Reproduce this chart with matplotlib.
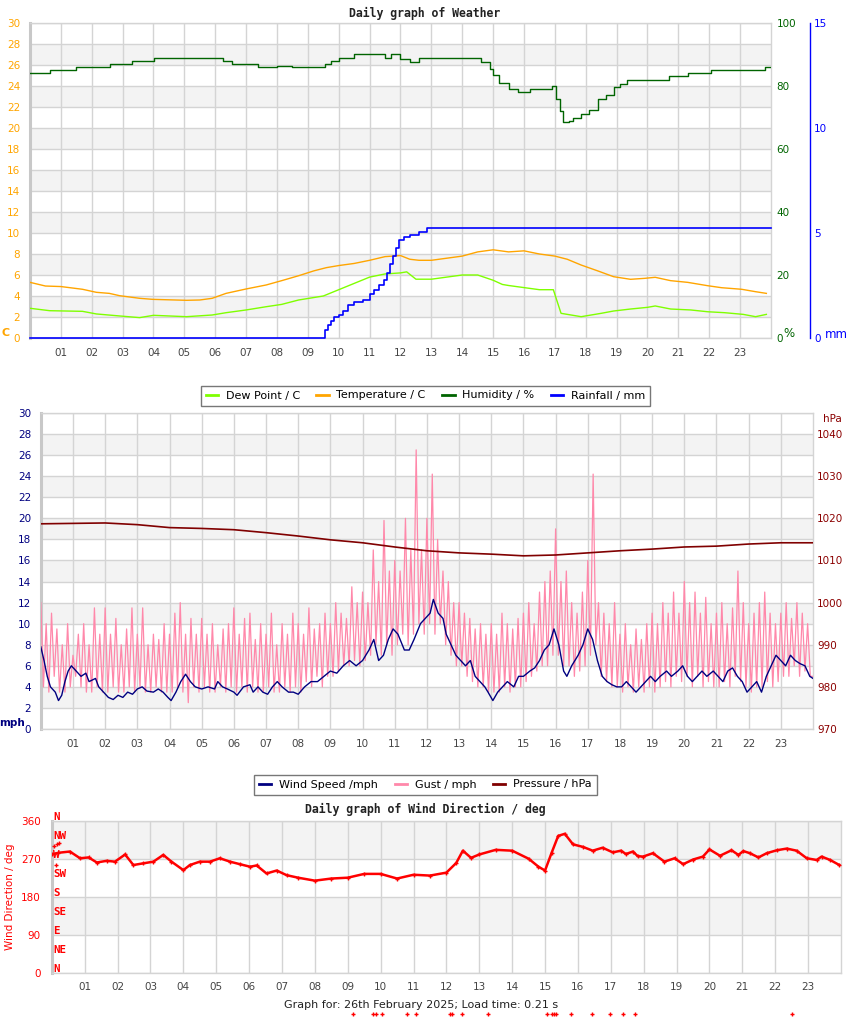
import matplotlib
matplotlib.use("Agg")
import matplotlib.pyplot as plt
from matplotlib.lines import Line2D

# ---------------- DATA ----------------
hour_ticks = list(range(1, 24))
hour_labels = [f"{h:02d}" for h in hour_ticks]

temp_hours = [0, 0.5, 1.0, 1.7, 2.15, 2.57, 2.9, 3.55, 3.98, 5.07, 5.5, 5.9, 6.35, 7.0, 7.65, 8.15, 8.7, 9.2,
              9.6, 10.0, 10.5, 11.0, 11.5, 12.0, 12.3, 12.6, 13.0, 13.5, 14.0, 14.5, 15.0, 15.5, 16.0, 16.5,
              17.0, 17.4, 17.85, 18.4, 18.9, 19.45, 19.9, 20.25, 20.75, 21.3, 21.95, 22.4, 23.05, 23.5, 23.85]
temp_vals = [5.3, 4.95, 4.9, 4.64, 4.35, 4.25, 4.03, 3.78, 3.68, 3.59, 3.62, 3.78, 4.25, 4.67, 5.05, 5.46, 5.93,
             6.4, 6.7, 6.9, 7.1, 7.4, 7.75, 7.85, 7.5, 7.4, 7.4, 7.6, 7.8, 8.2, 8.4, 8.2, 8.3, 8.0, 7.8, 7.5,
             6.95, 6.38, 5.84, 5.59, 5.68, 5.78, 5.46, 5.3, 4.98, 4.79, 4.64, 4.41, 4.25]

dew_hours = [0, 0.64, 1.7, 2.15, 2.9, 3.55, 4.0, 5.07, 5.9, 6.35, 7.0, 7.65, 8.15, 8.7, 9.5, 10.0, 10.5, 11.0,
             11.5, 12.0, 12.2, 12.5, 13.0, 13.5, 14.0, 14.5, 15.0, 15.3, 15.5, 16.0, 16.5, 16.95, 17.2, 17.85,
             18.5, 18.9, 19.45, 20.0, 20.25, 20.75, 21.4, 21.95, 22.5, 23.1, 23.5, 23.85]
dew_vals = [2.83, 2.6, 2.54, 2.29, 2.1, 1.94, 2.16, 2.03, 2.19, 2.41, 2.67, 2.98, 3.2, 3.62, 4.0, 4.6, 5.2, 5.8,
            6.1, 6.2, 6.3, 5.6, 5.6, 5.8, 6.0, 6.0, 5.5, 5.1, 5.0, 4.8, 4.6, 4.6, 2.35, 2.03, 2.35, 2.57, 2.76,
            2.92, 3.05, 2.76, 2.67, 2.5, 2.41, 2.25, 2.03, 2.25]

hum_hours = [0, 0.64, 1.5, 2.58, 3.3, 4.03, 6.25, 6.55, 7.4, 8.0, 8.5, 9.55, 9.75, 10.0, 10.5, 11.5, 11.7, 12.0,
             12.3, 12.6, 14.6, 14.9, 15.0, 15.2, 15.5, 15.8, 16.2, 16.9, 17.05, 17.15, 17.25, 17.45, 17.6, 17.85,
             18.1, 18.4, 18.65, 18.9, 19.1, 19.35, 20.7, 21.3, 22.05, 23.8, 24]
hum_vals = [84.1, 85.0, 85.9, 86.9, 87.8, 88.8, 87.8, 86.9, 85.9, 86.5, 85.9, 87.0, 88.0, 89.0, 90.0, 89.0, 90.0,
            88.7, 87.7, 88.8, 87.7, 85.5, 83.5, 81.0, 79.0, 78.0, 79.0, 80.0, 76.0, 72.0, 68.5, 69.0, 69.8, 71.1,
            72.5, 75.9, 77.0, 79.6, 80.5, 81.8, 83.1, 84.1, 85.0, 85.9, 85.9]

rain_hours = [0, 9.45, 9.55, 9.65, 9.75, 9.85, 10.0, 10.15, 10.3, 10.5, 10.8, 11.0, 11.15, 11.3, 11.45, 11.55,
              11.65, 11.75, 11.85, 11.95, 12.1, 12.3, 12.6, 12.85, 24]
rain_vals = [0, 0, 0.4, 0.6, 0.8, 1.0, 1.1, 1.3, 1.57, 1.7, 1.8, 2.1, 2.3, 2.5, 2.76, 3.1, 3.5, 3.9, 4.3, 4.67,
             4.8, 4.9, 5.05, 5.24, 5.24]

wind_hours = [0.0, 0.1, 0.2, 0.3, 0.45, 0.55, 0.65, 0.75, 0.85, 0.95, 1.1, 1.25, 1.4, 1.5, 1.7, 1.8, 1.95, 2.1,
              2.25, 2.4, 2.55, 2.7, 2.85, 3.0, 3.15, 3.3, 3.5, 3.65, 3.8, 3.95, 4.05, 4.2, 4.35, 4.5, 4.65, 4.8,
              5.0, 5.2, 5.4, 5.5, 5.65, 5.8, 6.0, 6.1, 6.3, 6.5, 6.6, 6.75, 6.9, 7.05, 7.2, 7.35, 7.5, 7.7, 7.85,
              8.0, 8.2, 8.4, 8.6, 8.8, 9.0, 9.2, 9.4, 9.6, 9.8, 10.0, 10.2, 10.35, 10.5, 10.65, 10.8, 10.95, 11.1,
              11.3, 11.45, 11.6, 11.8, 11.95, 12.1, 12.2, 12.35, 12.5, 12.6, 12.75, 12.9, 13.05, 13.2, 13.35,
              13.5, 13.65, 13.8, 13.9, 14.05, 14.2, 14.35, 14.5, 14.7, 14.85, 15.0, 15.2, 15.35, 15.5, 15.65,
              15.8, 15.95, 16.1, 16.25, 16.35, 16.5, 16.7, 16.85, 17.0, 17.15, 17.3, 17.45, 17.6, 17.75, 17.9,
              18.05, 18.2, 18.35, 18.5, 18.65, 18.8, 18.95, 19.1, 19.25, 19.45, 19.6, 19.8, 19.95, 20.1, 20.25,
              20.4, 20.55, 20.7, 20.9, 21.05, 21.2, 21.35, 21.5, 21.65, 21.8, 21.95, 22.1, 22.25, 22.4, 22.55,
              22.7, 22.85, 23.0, 23.15, 23.3, 23.45, 23.6, 23.75, 23.9, 24.0]
wind_vals = [7.8, 6.5, 5, 4, 3.5, 2.7, 3.2, 4.5, 5.5, 6, 5.5, 5, 5.3, 4.5, 4.8, 4, 3.5, 3, 2.8, 3.2, 3, 3.5, 3.3,
             3.8, 4, 3.6, 3.5, 3.8, 3.5, 3, 2.7, 3.5, 4.5, 5.2, 4.5, 4, 3.8, 4, 3.8, 4.5, 4, 3.8, 3.5, 3.2, 4,
             4.2, 3.5, 4, 3.5, 3.3, 4, 4.5, 4, 3.5, 3.5, 3.3, 4, 4.5, 4.5, 5, 5.5, 5.3, 6, 6.5, 6, 6.5, 7.5, 8.5,
             6.5, 7, 8.5, 9.5, 9, 7.5, 7.5, 8.5, 10, 10.5, 11, 12.3, 11, 10.5, 9, 8, 7, 6.5, 6, 6.5, 5, 4.5, 4,
             3.5, 2.7, 3.5, 4, 4.5, 4, 5, 5, 5.5, 5.8, 6.5, 7.5, 8, 9.5, 8, 5.5, 5, 6, 7, 8, 9.5, 8.5, 6.5, 5,
             4.5, 4.2, 4, 4, 4.5, 4, 3.5, 4, 4.5, 5, 4.5, 5, 5.5, 5, 5.5, 6, 5, 4.5, 5, 5.5, 5, 5.5, 5, 4.5, 5.5,
             5.8, 5, 4.5, 3.5, 4, 4.5, 3.5, 5, 6, 7, 6.5, 6, 7, 6.5, 6.2, 6, 5, 4.8]

# gust every 5 minutes (12 per hour)
gust_step_h = 1 / 12
gust_vals = [12, 4, 10, 3.5, 11, 5, 9.5, 3.5, 8, 3.5, 10, 4,
             7, 5, 9, 4, 10, 3.5, 8, 3.5, 11.5, 4, 9, 3.5,
             11.5, 3.5, 9, 4, 10.5, 3.5, 8, 3.5, 9.5, 4, 11.5, 3.5,
             9, 4, 11.5, 3.5, 8, 3.5, 9, 4, 8.5, 3.5, 10, 3.5,
             9, 3.5, 11, 4, 12, 3.5, 9, 2.5, 10.5, 4, 9, 3.5,
             10.5, 4, 9, 3.5, 10, 3.5, 8, 4, 9.5, 3.5, 10, 4,
             11.5, 3.5, 9, 4, 10.5, 3.5, 11, 4, 8.5, 3.5, 10, 3.5,
             9, 4, 11, 3.5, 8, 3.5, 10, 4, 9, 3.5, 11, 4,
             10, 3.5, 9, 4.5, 11.5, 4, 9.5, 5, 10, 4, 11, 5,
             10, 5, 12, 5.5, 11, 6, 10.5, 6, 13.5, 6.5, 12, 6,
             13, 6.5, 12, 7, 17, 8, 14, 7, 19.8, 8, 15, 7,
             16, 8, 15, 9, 20, 8, 17, 9, 26.5, 10, 17, 9,
             20, 10, 24.2, 9, 18, 10, 15, 8, 14, 7, 12, 6,
             12, 6, 11, 5, 10.5, 4.5, 9.5, 4, 10, 4, 9, 3.5,
             10, 3.5, 9, 3.5, 11, 4, 10, 3.5, 9.5, 4, 10.5, 4,
             11, 4.5, 12, 5, 10, 5.5, 13, 6, 14, 6, 15, 7,
             19, 7, 14, 6, 15, 6, 12, 5, 11, 5.5, 13, 6,
             16, 7, 24.2, 8, 12, 5, 11, 4.5, 10, 4, 12, 4,
             9, 3.5, 10, 4, 8, 3.5, 9.5, 4, 8.5, 3.5, 10, 4,
             11, 3.5, 10, 4, 12, 4.5, 11, 4, 13, 5, 11, 4.5,
             14, 5, 12, 4, 13, 5, 11, 4, 12.5, 4.5, 10, 4,
             11, 4, 12, 4.5, 10, 4, 11.5, 5, 15, 4.5, 12, 4,
             10, 3.5, 11, 4, 12, 4, 13, 4.5, 11, 4, 10, 4.5,
             11, 5, 12, 5, 10.5, 6, 12, 5, 11, 5.5, 10, 5,
             5]

pres_hours = list(range(0, 25))
pres_vals = [1018.7, 1018.8, 1018.9, 1018.5, 1017.8, 1017.6, 1017.3, 1016.6, 1015.8, 1014.9, 1014.2, 1013.2,
             1012.3, 1011.8, 1011.5, 1011.1, 1011.3, 1011.8, 1012.3, 1012.7, 1013.2, 1013.4, 1013.9, 1014.2,
             1014.2]

dir_hours = [0, 0.2, 0.55, 0.86, 1.12, 1.37, 1.67, 1.92, 2.23, 2.48, 2.78, 3.09, 3.39, 3.64, 4.0, 4.2, 4.5, 4.81,
             5.11, 5.42, 5.72, 6.03, 6.23, 6.53, 6.84, 7.14, 7.49, 8.0, 8.5, 9.0, 9.5, 10.0, 10.5, 11.0, 11.5,
             12.0, 12.3, 12.5, 12.75, 13.0, 13.5, 14.0, 14.5, 14.8, 15.0, 15.2, 15.4, 15.6, 15.85, 16.15, 16.45,
             16.75, 17.06, 17.31, 17.46, 17.67, 17.82, 17.98, 18.28, 18.63, 18.94, 19.2, 19.5, 19.8, 20.0, 20.32,
             20.67, 20.88, 21.03, 21.23, 21.49, 21.74, 22.05, 22.35, 22.65, 22.96, 23.26, 23.41, 23.67, 23.95]
dir_vals = [280, 284, 287, 271, 273, 261, 265, 263, 280, 255, 259, 263, 279, 263, 243, 255, 263, 263, 271, 263,
            257, 251, 254, 235, 242, 231, 225, 218, 223, 225, 234, 234, 223, 232, 230, 237, 260, 289, 272, 280,
            291, 289, 270, 251, 242, 284, 324, 329, 304, 298, 289, 296, 285, 289, 281, 287, 276, 275, 283, 263,
            271, 257, 268, 275, 292, 277, 290, 279, 288, 283, 273, 283, 290, 294, 289, 271, 267, 275, 267, 255]
dir_extra_hours = [0.08, 0.15, 0.22, 0.12]
dir_extra_vals = [300, 305, 308, 254]
dir_low_hours = [9.15, 9.76, 9.85, 10.03, 10.79, 11.07, 12.10, 12.16, 12.47, 13.26, 15.05, 15.2, 15.26, 15.32,
                 15.78, 16.42, 16.99, 17.36, 17.75, 22.52]
dir_low_val = -97

compass_labels = ["N", "NE", "E", "SE", "S", "SW", "W", "NW", "N"]
compass_degs = [0, 45, 90, 135, 180, 225, 270, 315, 360]

# ---------------- STYLE ----------------
W, H = 850, 1017
fig = plt.figure(figsize=(W / 100, H / 100), dpi=100)
GRID = "#d4d4d4"
BAND = "#f3f3f3"
XLAB = "#444444"
TS = 7.5

C_TEMP = "#FFA500"
C_DEW = "#7FFF00"
C_HUM = "#006400"
C_RAIN = "#0000FF"
C_WIND = "#000080"
C_GUST = "#FF88AA"
C_PRES = "#800000"
C_DIR = "#FF0000"


def px_axes(l, t, r, b):
    return fig.add_axes([l / W, 1 - b / H, (r - l) / W, (b - t) / H])


def base(ax, bands, yticks):
    ax.set_xlim(0, 24)
    for lo, hi in bands:
        ax.axhspan(lo, hi, color=BAND, zorder=0, lw=0)
    for h in hour_ticks:
        ax.axvline(h, color=GRID, lw=1, zorder=0.5)
    for y in yticks:
        ax.axhline(y, color=GRID, lw=1, zorder=0.5)
    ax.set_xticks(hour_ticks)
    ax.set_xticklabels(hour_labels)
    ax.tick_params(axis="x", length=0, pad=7, labelsize=TS, labelcolor=XLAB)
    for s in ["top", "right", "bottom"]:
        ax.spines[s].set_color(GRID)
        ax.spines[s].set_linewidth(1)
    ax.spines["left"].set_color("#c8c8c8")
    ax.spines["left"].set_linewidth(2.2)


def fx(x):
    return x / W


def fy(y):
    return 1 - y / H


# ---------------- CHART 1 ----------------
ax1 = px_axes(30, 23, 771, 338)
ax1.set_ylim(0, 30)
yt1 = list(range(0, 31, 2))
base(ax1, [(lo, lo + 2) for lo in range(2, 30, 4)], yt1)
ax1.set_yticks(yt1)
ax1.tick_params(axis="y", length=0, pad=7, labelsize=TS, labelcolor=C_TEMP)
ax1.plot(temp_hours, temp_vals, color=C_TEMP, lw=1, zorder=3)
ax1.plot(dew_hours, dew_vals, color=C_DEW, lw=1, zorder=3)

ax1h = ax1.twinx()
ax1h.set_ylim(0, 100)
ax1h.set_yticks(range(0, 101, 20))
ax1h.tick_params(axis="y", length=0, pad=4, labelsize=TS, labelcolor=C_HUM)
for s in ax1h.spines.values():
    s.set_visible(False)
ax1h.plot(hum_hours, hum_vals, color=C_HUM, lw=1, drawstyle="steps-post", zorder=3)

ax1r = ax1.twinx()
ax1r.set_ylim(0, 15)
ax1r.set_yticks([0, 5, 10, 15])
for s in ["top", "left", "bottom"]:
    ax1r.spines[s].set_visible(False)
ax1r.spines["right"].set_position(("axes", (810 - 30) / 741))
ax1r.spines["right"].set_color(C_RAIN)
ax1r.spines["right"].set_linewidth(1)
ax1r.tick_params(axis="y", length=0, pad=3, labelsize=TS, labelcolor=C_RAIN)
ax1r.plot(rain_hours, rain_vals, color=C_RAIN, lw=1.2, drawstyle="steps-post", zorder=4, clip_on=False)

fig.text(fx(425), fy(13), "Daily graph of Weather", family="DejaVu Sans Mono", weight="bold",
         fontsize=8.3, color="#222222", ha="center", va="center")
fig.text(fx(6), fy(333), "C", color=C_TEMP, weight="bold", fontsize=8, ha="center", va="center")
fig.text(fx(789), fy(333), "%", color=C_HUM, fontsize=8.5, ha="center", va="center")
fig.text(fx(825), fy(334), "mm", color=C_RAIN, fontsize=8.5, ha="left", va="center")

leg1 = [Line2D([], [], color=C_DEW, lw=2), Line2D([], [], color=C_TEMP, lw=2),
        Line2D([], [], color=C_HUM, lw=2), Line2D([], [], color=C_RAIN, lw=2)]
fig.legend(leg1, ["Dew Point / C", "Temperature / C", "Humidity / %", "Rainfall / mm"],
           loc="center", bbox_to_anchor=(fx(425.5), fy(395.5)), ncol=4, fontsize=8,
           frameon=True, fancybox=False, edgecolor="#777777", framealpha=1,
           handlelength=1.1, handletextpad=0.7, columnspacing=1.5, borderpad=0.45)

# ---------------- CHART 2 ----------------
ax2 = px_axes(40.8, 413, 813, 729)
ax2.set_ylim(0, 30)
yt2 = list(range(0, 31, 2))
base(ax2, [(lo, lo + 2) for lo in range(2, 30, 4)], yt2)
ax2.set_yticks(yt2)
ax2.tick_params(axis="y", length=0, pad=7, labelsize=TS, labelcolor=C_WIND)
gust_hours = [i * gust_step_h for i in range(len(gust_vals))]
ax2.plot(gust_hours, gust_vals, color=C_GUST, lw=0.9, zorder=3)
ax2.plot(wind_hours, wind_vals, color=C_WIND, lw=1, zorder=4)

ax2p = ax2.twinx()
ax2p.set_ylim(970, 1045)
ax2p.set_yticks(range(970, 1041, 10))
ax2p.tick_params(axis="y", length=0, pad=3, labelsize=TS, labelcolor="#8B0000")
for s in ax2p.spines.values():
    s.set_visible(False)
ax2p.plot(pres_hours, pres_vals, color=C_PRES, lw=1.2, zorder=5)

fig.text(fx(832), fy(419), "hPa", color="#8B0000", fontsize=TS, ha="center", va="center")
fig.text(fx(12), fy(723), "mph", color=C_WIND, weight="bold", fontsize=7.5, ha="center", va="center")

leg2 = [Line2D([], [], color=C_WIND, lw=2), Line2D([], [], color=C_GUST, lw=2),
        Line2D([], [], color=C_PRES, lw=2)]
fig.legend(leg2, ["Wind Speed /mph", "Gust / mph", "Pressure / hPa"],
           loc="center", bbox_to_anchor=(fx(425.5), fy(784.5)), ncol=3, fontsize=8,
           frameon=True, fancybox=False, edgecolor="#777777", framealpha=1,
           handlelength=1.1, handletextpad=0.7, columnspacing=1.5, borderpad=0.45)

# ---------------- CHART 3 ----------------
ax3 = px_axes(51.8, 820.7, 841, 972.7)
ax3.set_ylim(0, 360)
yt3 = [0, 90, 180, 270, 360]
base(ax3, [(90, 180), (270, 360)], yt3)
ax3.set_yticks(yt3)
ax3.tick_params(axis="y", length=0, pad=8, labelsize=TS, labelcolor=C_DIR)
ax3.plot(dir_hours, dir_vals, color=C_DIR, lw=1.8, zorder=3)
ax3.plot(dir_hours, dir_vals, color=C_DIR, lw=0, marker="+", ms=3.5, mew=1, zorder=3)
ax3.plot(dir_extra_hours, dir_extra_vals, color=C_DIR, lw=0, marker="+", ms=3, mew=1, zorder=3)
ax3.plot(dir_low_hours, [dir_low_val] * len(dir_low_hours), color=C_DIR, lw=0, marker="+", ms=3,
         mew=1, clip_on=False, zorder=3)
ax3.set_ylabel("Wind Direction / deg", color=C_DIR, fontsize=TS, labelpad=4)
for lab, d in zip(compass_labels, compass_degs):
    ax3.annotate(lab, (0, d), xytext=(1, 2.5), textcoords="offset points", color=C_DIR,
                 family="DejaVu Sans Mono", weight="bold", fontsize=7.8, ha="left", va="center",
                 annotation_clip=False, zorder=6)

fig.text(fx(425), fy(809), "Daily graph of Wind Direction / deg", family="DejaVu Sans Mono", weight="bold",
         fontsize=8.3, color="#222222", ha="center", va="center")
fig.text(fx(421), fy(1004.5), "Graph for: 26th February 2025; Load time: 0.21 s", fontsize=8,
         color="#222222", ha="center", va="center")

fig.savefig("out.png", dpi=100)
